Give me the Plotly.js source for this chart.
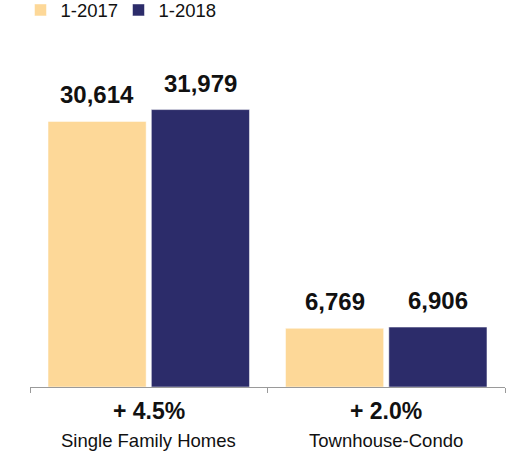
<!DOCTYPE html>
<html><head><meta charset="utf-8">
<script src="https://cdn.plot.ly/plotly-3.0.1.min.js"></script>
<style>html,body{margin:0;padding:0;background:#fff}</style>
</head><body>
<div id="chart" style="width:510px;height:453px"></div>
<script>
const categories = ["Single Family Homes", "Townhouse-Condo"];
const changeLabels = ["+ 4.5%", "+ 2.0%"];
const seriesNames = ["1-2017", "1-2018"];
const values2017 = [30614, 6769];
const values2018 = [31979, 6906];
const colors = ["#FDD898", "#2C2C6A"];

const FONT = "Liberation Sans, Arial, Helvetica, sans-serif";
const bargap = 0.13, bargroupgap = 0.05;
const seriesVals = [values2017, values2018];

const traces = seriesVals.map((vals, i) => ({
  type: "bar", name: seriesNames[i], x: categories, y: vals,
  marker: {color: colors[i], line: {color: "#ffffff", width: 0.5}},
  hoverinfo: "none"
}));

const slot = (1 - bargap) / 2;
const annotations = [];
seriesVals.forEach((vals, i) => {
  vals.forEach((v, j) => {
    annotations.push({
      x: j + (i === 0 ? -slot / 2 : slot / 2), y: v, xref: "x", yref: "y",
      text: "<b>" + v.toLocaleString("en-US") + "</b>", showarrow: false,
      yanchor: "bottom", yshift: 11,
      font: {family: FONT, size: 24, color: "#111"}
    });
  });
});
categories.forEach((c, j) => {
  annotations.push({x: j, y: 0, xref: "x", yref: "paper", text: "<b>" + changeLabels[j] + "</b>",
    showarrow: false, yanchor: "middle", yshift: -24, font: {family: FONT, size: 23, color: "#111"}});
  annotations.push({x: j, y: 0, xref: "x", yref: "paper", text: c,
    showarrow: false, yanchor: "middle", yshift: -53, font: {family: FONT, size: 18.5, color: "#111"}});
});

const layout = {
  width: 510, height: 453,
  margin: {l: 30, r: 5, t: 40, b: 66, autoexpand: false},
  paper_bgcolor: "#fff", plot_bgcolor: "#fff",
  barmode: "group", bargap: bargap, bargroupgap: bargroupgap,
  font: {family: FONT, color: "#111"},
  showlegend: true,
  legend: {orientation: "h", x: -0.02, xanchor: "left", yref: "paper", y: 1.14, yanchor: "top",
    font: {family: FONT, size: 18.5, color: "#111"}, itemwidth: 30, traceorder: "normal",
    entrywidth: 53, entrywidthmode: "pixels"},
  xaxis: {type: "category", showline: true, linecolor: "#9a9a9a", linewidth: 1,
    ticks: "outside", tickson: "boundaries", ticklen: 5, tickcolor: "#9a9a9a",
    showticklabels: false, showgrid: false, zeroline: false, fixedrange: true},
  yaxis: {range: [0, 40000], visible: false, showgrid: false, zeroline: false, fixedrange: true},
  annotations: annotations
};

Plotly.newPlot("chart", traces, layout, {displayModeBar: false, staticPlot: true});
</script>
</body></html>
